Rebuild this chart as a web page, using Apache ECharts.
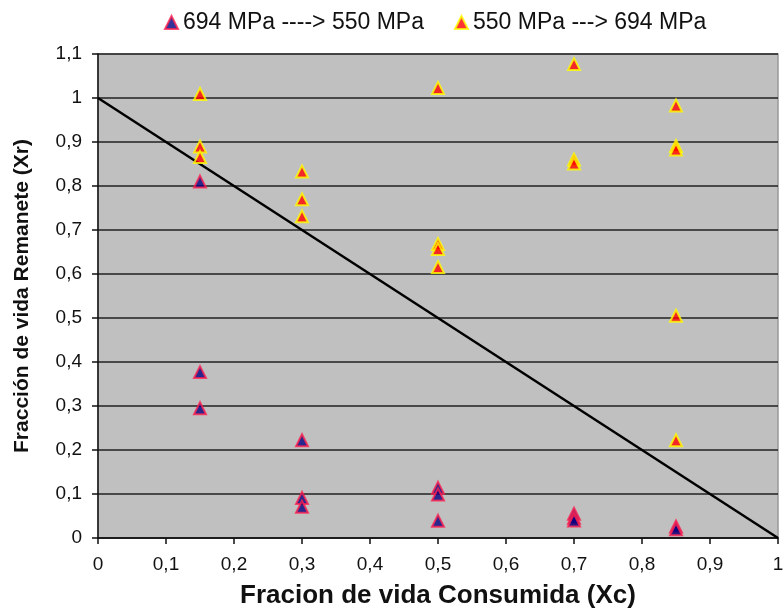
<!DOCTYPE html>
<html><head><meta charset="utf-8">
<script src="https://cdn.jsdelivr.net/npm/echarts@6/dist/echarts.min.js"></script>
<style>html,body{margin:0;padding:0;background:#fff}#c{width:784px;height:609px}</style>
</head><body><div id="c"></div>
<script>
const seriesNames = ['694 MPa ----> 550 MPa', '550 MPa ---> 694 MPa'];
const xTitle = 'Fracion de vida Consumida (Xc)';
const yTitle = 'Fracción de vida Remanete (Xr)';
// Series 1: 694 -> 550 MPa  [Xc, Xr]
const s1X = [0.15, 0.15, 0.15, 0.3, 0.3, 0.3, 0.5, 0.5, 0.5, 0.7, 0.7, 0.7, 0.85, 0.85];
const s1Y = [0.81, 0.377, 0.295, 0.222, 0.091, 0.071, 0.114, 0.099, 0.039, 0.055, 0.046, 0.040, 0.026, 0.020];
// Series 2: 550 -> 694 MPa
const s2X = [0.15, 0.15, 0.15, 0.3, 0.3, 0.3, 0.5, 0.5, 0.5, 0.5, 0.7, 0.7, 0.7, 0.85, 0.85, 0.85, 0.85, 0.85];
const s2Y = [1.009, 0.890, 0.866, 0.833, 0.770, 0.731, 1.023, 0.668, 0.657, 0.616, 1.077, 0.860, 0.851, 0.983, 0.891, 0.883, 0.505, 0.222];
// Reference line Xc + Xr = 1
const lineX = [0, 1];
const lineY = [1, 0];

const fmt = v => { const r = Math.round(v * 10) / 10; return String(r).replace('.', ','); };
const zip = (a, b) => a.map((v, i) => [v, b[i]]);

const chart = echarts.init(document.getElementById('c'), null, {renderer: 'canvas'});
chart.setOption({
  animation: false,
  textStyle: {fontFamily: 'Liberation Sans, Arial, sans-serif'},
  legend: {
    top: 6, left: 159, itemWidth: 13, itemHeight: 13, itemGap: 30,
    textStyle: {fontSize: 23, color: '#111'},
    data: seriesNames
  },
  grid: {left: 98, right: 6, top: 54, bottom: 71, containLabel: false, outerBoundsMode: 'none',
         show: true, backgroundColor: '#C0C0C0', borderColor: '#999', borderWidth: 1.5},
  xAxis: {
    type: 'value', min: 0, max: 1, interval: 0.1,
    name: xTitle, nameLocation: 'middle', nameGap: 45,
    nameTextStyle: {fontSize: 26, fontWeight: 'bold', color: '#111'},
    axisLine: {show: true, lineStyle: {color: '#111', width: 1.5}},
    axisTick: {show: true, length: 6, lineStyle: {color: '#111', width: 1.5}},
    axisLabel: {fontSize: 19, color: '#111', margin: 17, formatter: fmt},
    splitLine: {show: false}
  },
  yAxis: {
    type: 'value', min: 0, max: 1.1, interval: 0.1,
    name: yTitle, nameLocation: 'middle', nameGap: 65,
    nameTextStyle: {fontSize: 21, fontWeight: 'bold', color: '#111'},
    axisLine: {show: true, lineStyle: {color: '#111', width: 1.5}},
    axisTick: {show: true, length: 6, lineStyle: {color: '#111', width: 1.5}},
    axisLabel: {fontSize: 19, color: '#111', margin: 16, formatter: fmt},
    splitLine: {show: true, lineStyle: {color: '#222', width: 1.5}}
  },
  series: [
    {
      name: seriesNames[0], type: 'scatter', symbol: 'triangle', symbolSize: 12,
      itemStyle: {color: '#000080', borderColor: '#FF2050', borderWidth: 2},
      data: zip(s1X, s1Y), z: 3
    },
    {
      name: seriesNames[1], type: 'scatter', symbol: 'triangle', symbolSize: 12,
      itemStyle: {color: '#FF0000', borderColor: '#FFFF00', borderWidth: 2},
      data: zip(s2X, s2Y), z: 4
    },
    {
      name: 'line', type: 'line', symbol: 'none', silent: true,
      lineStyle: {color: '#000', width: 2.5},
      data: zip(lineX, lineY), z: 2
    }
  ]
});
</script></body></html>
